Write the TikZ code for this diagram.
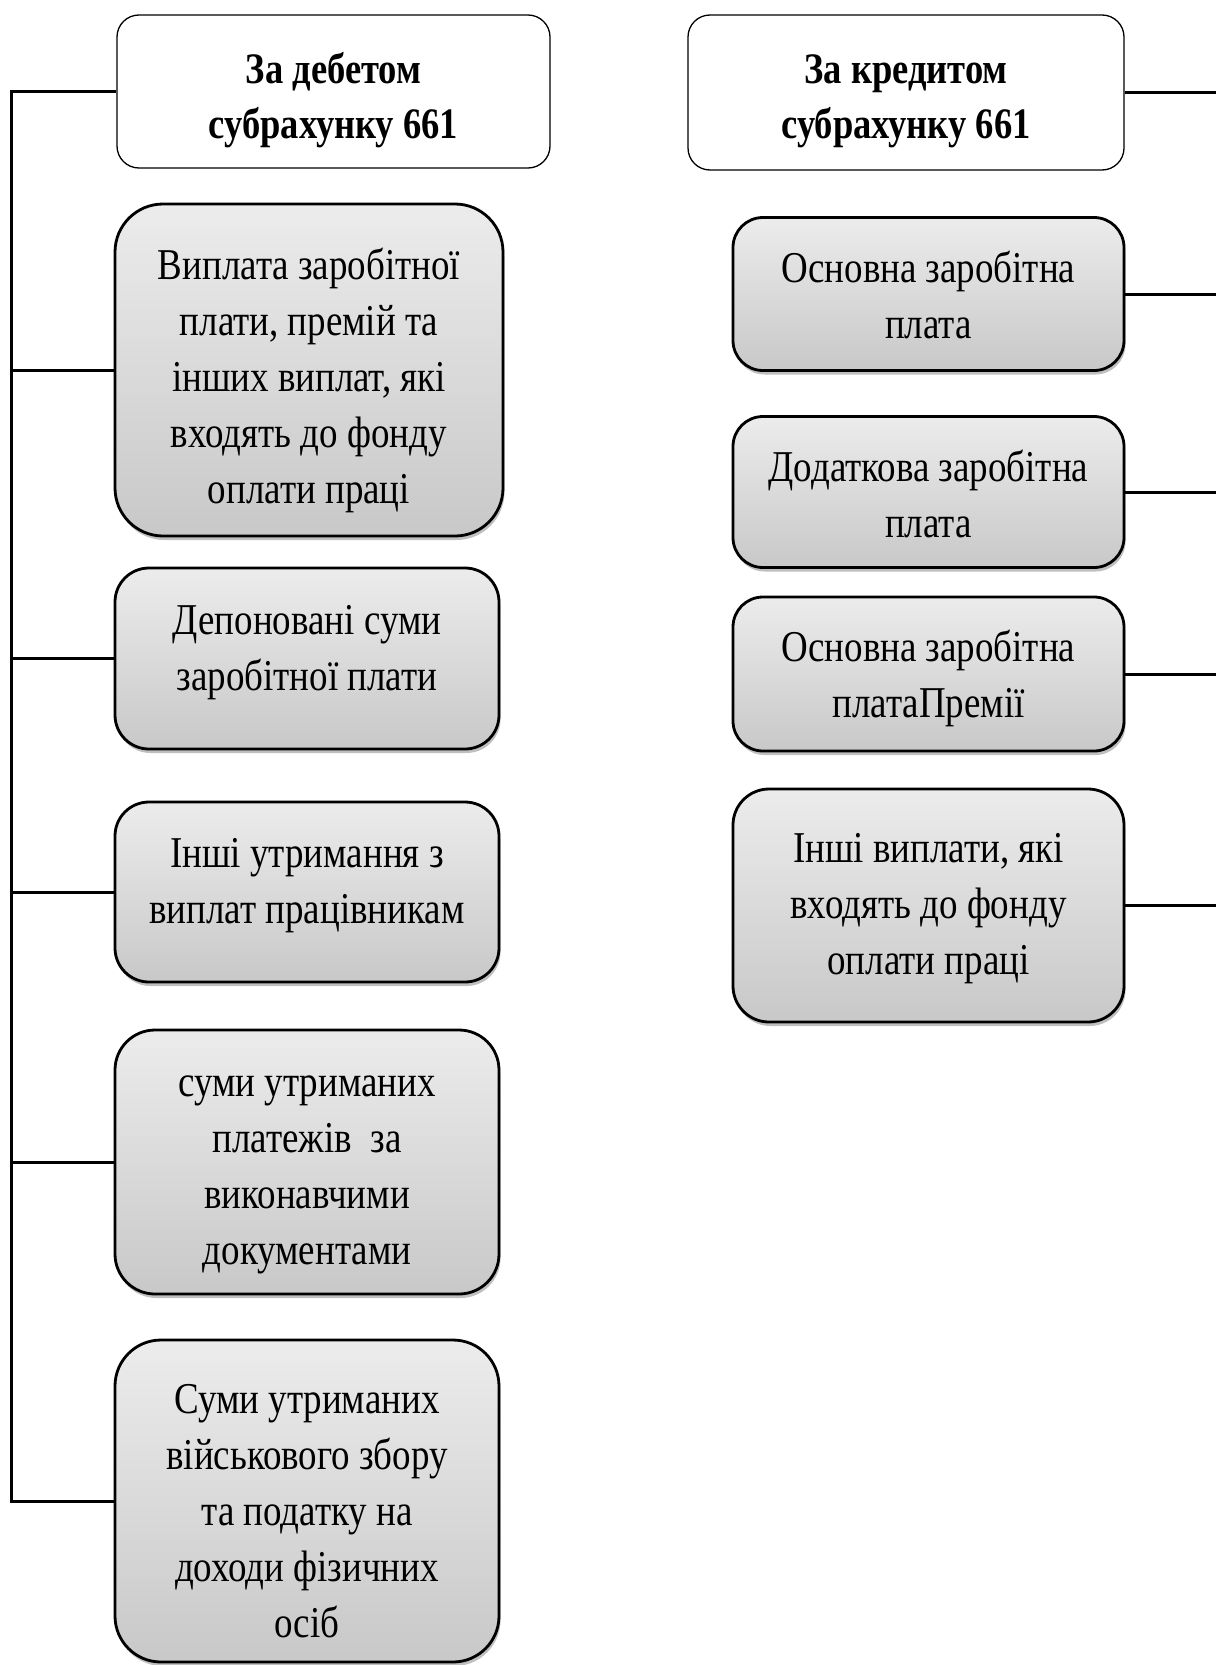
\documentclass[tikz,border=0pt]{standalone}
\usepackage{fontspec}
\setmainfont{Liberation Serif}[FakeStretch=0.84]
\usetikzlibrary{shadows,calc}
\begin{document}
\begin{tikzpicture}[x=1pt,y=-1pt,
  hdr/.style={draw=black, line width=1.3pt, rounded corners=22pt, fill=white, inner sep=0pt},
  htxt/.style={align=center, font=\fontsize{43.5}{55}\selectfont\bfseries, inner sep=0pt},
  gbox/.style={draw=black, line width=2.8pt, top color=gray!15, bottom color=gray!43,
    drop shadow={shadow xshift=1.5pt, shadow yshift=-4pt, fill=black, opacity=0.25}, inner sep=0pt},
  txt/.style={align=center, font=\fontsize{44}{56}\selectfont, inner sep=0pt},
  conn/.style={draw=black, line width=3pt}]
\useasboundingbox (0,0) rectangle (1216,1665);
% left column
\node[hdr, minimum width=433pt, minimum height=153pt] (hdrL) at (333.5,91.5) {};
\node[htxt] (hdrLt) at ([yshift=-8.5pt]hdrL.center) {За дебетом\\субрахунку 661};
\node[gbox, rounded corners=48pt, minimum width=388pt, minimum height=332pt] (b1) at (309,370) {};
\node[txt] (b1t) at ([yshift=-10pt]b1.center)
  {Виплата заробітної\\плати, премій та\\інших виплат, які\\входять до фонду\\оплати праці};
\node[gbox, rounded corners=34pt, minimum width=384pt, minimum height=181pt] (b2) at (307,658.5) {};
\node[txt] (b2t) at ([yshift=6pt]b2.center) {Депоновані суми\\заробітної плати};
\node[gbox, rounded corners=34pt, minimum width=384pt, minimum height=180pt] (b3) at (307,892) {};
\node[txt] (b3t) at ([yshift=6pt]b3.center) {Інші утримання з\\виплат працівникам};
\node[gbox, rounded corners=40pt, minimum width=384pt, minimum height=264pt] (b4) at (307,1162) {};
\node[txt] (b4t) at ([yshift=-13pt]b4.center)
  {суми утриманих\\платежів\ \ за\\виконавчими\\документами};
\node[gbox, rounded corners=46pt, minimum width=384pt, minimum height=322pt] (b5) at (307,1501) {};
\node[txt] (b5t) at ([yshift=-10pt]b5.center)
  {Суми утриманих\\військового збору\\та податку на\\доходи фізичних\\осіб};
% right column
\node[hdr, minimum width=436pt, minimum height=155pt] (hdrR) at (906,92.5) {};
\node[htxt] (hdrRt) at ([yshift=-8.5pt]hdrR.center) {За кредитом\\субрахунку 661};
\node[gbox, rounded corners=30pt, minimum width=391pt, minimum height=153pt] (r1) at (928.5,294) {};
\node[txt] (r1t) at ([yshift=-1pt]r1.center) {Основна заробітна\\плата};
\node[gbox, rounded corners=30pt, minimum width=391pt, minimum height=151pt] (r2) at (928.5,492) {};
\node[txt] (r2t) at ([yshift=-1.5pt]r2.center) {Додаткова заробітна\\плата};
\node[gbox, rounded corners=30pt, minimum width=391pt, minimum height=154pt] (r3) at (928.5,674) {};
\node[txt] (r3t) at ([yshift=-4pt]r3.center) {Основна заробітна\\платаПремії};
\node[gbox, rounded corners=36pt, minimum width=391pt, minimum height=233pt] (r4) at (928.5,905.5) {};
\node[txt] (r4t) at ([yshift=-3pt]r4.center) {Інші виплати, які\\входять до фонду\\оплати праці};
% spines
\coordinate (spL) at (11,0);
\coordinate (spR) at (1216,0);
\draw[conn] (hdrL.west) -- (hdrL.west -| spL) -- (b5.west -| spL) -- (b5.west);
\foreach \b in {b1,b2,b3,b4} \draw[conn] (\b.west) -- (\b.west -| spL);
\foreach \b in {hdrR,r1,r2,r3,r4} \draw[conn] (\b.east) -- (\b.east -| spR);
\end{tikzpicture}
\end{document}
